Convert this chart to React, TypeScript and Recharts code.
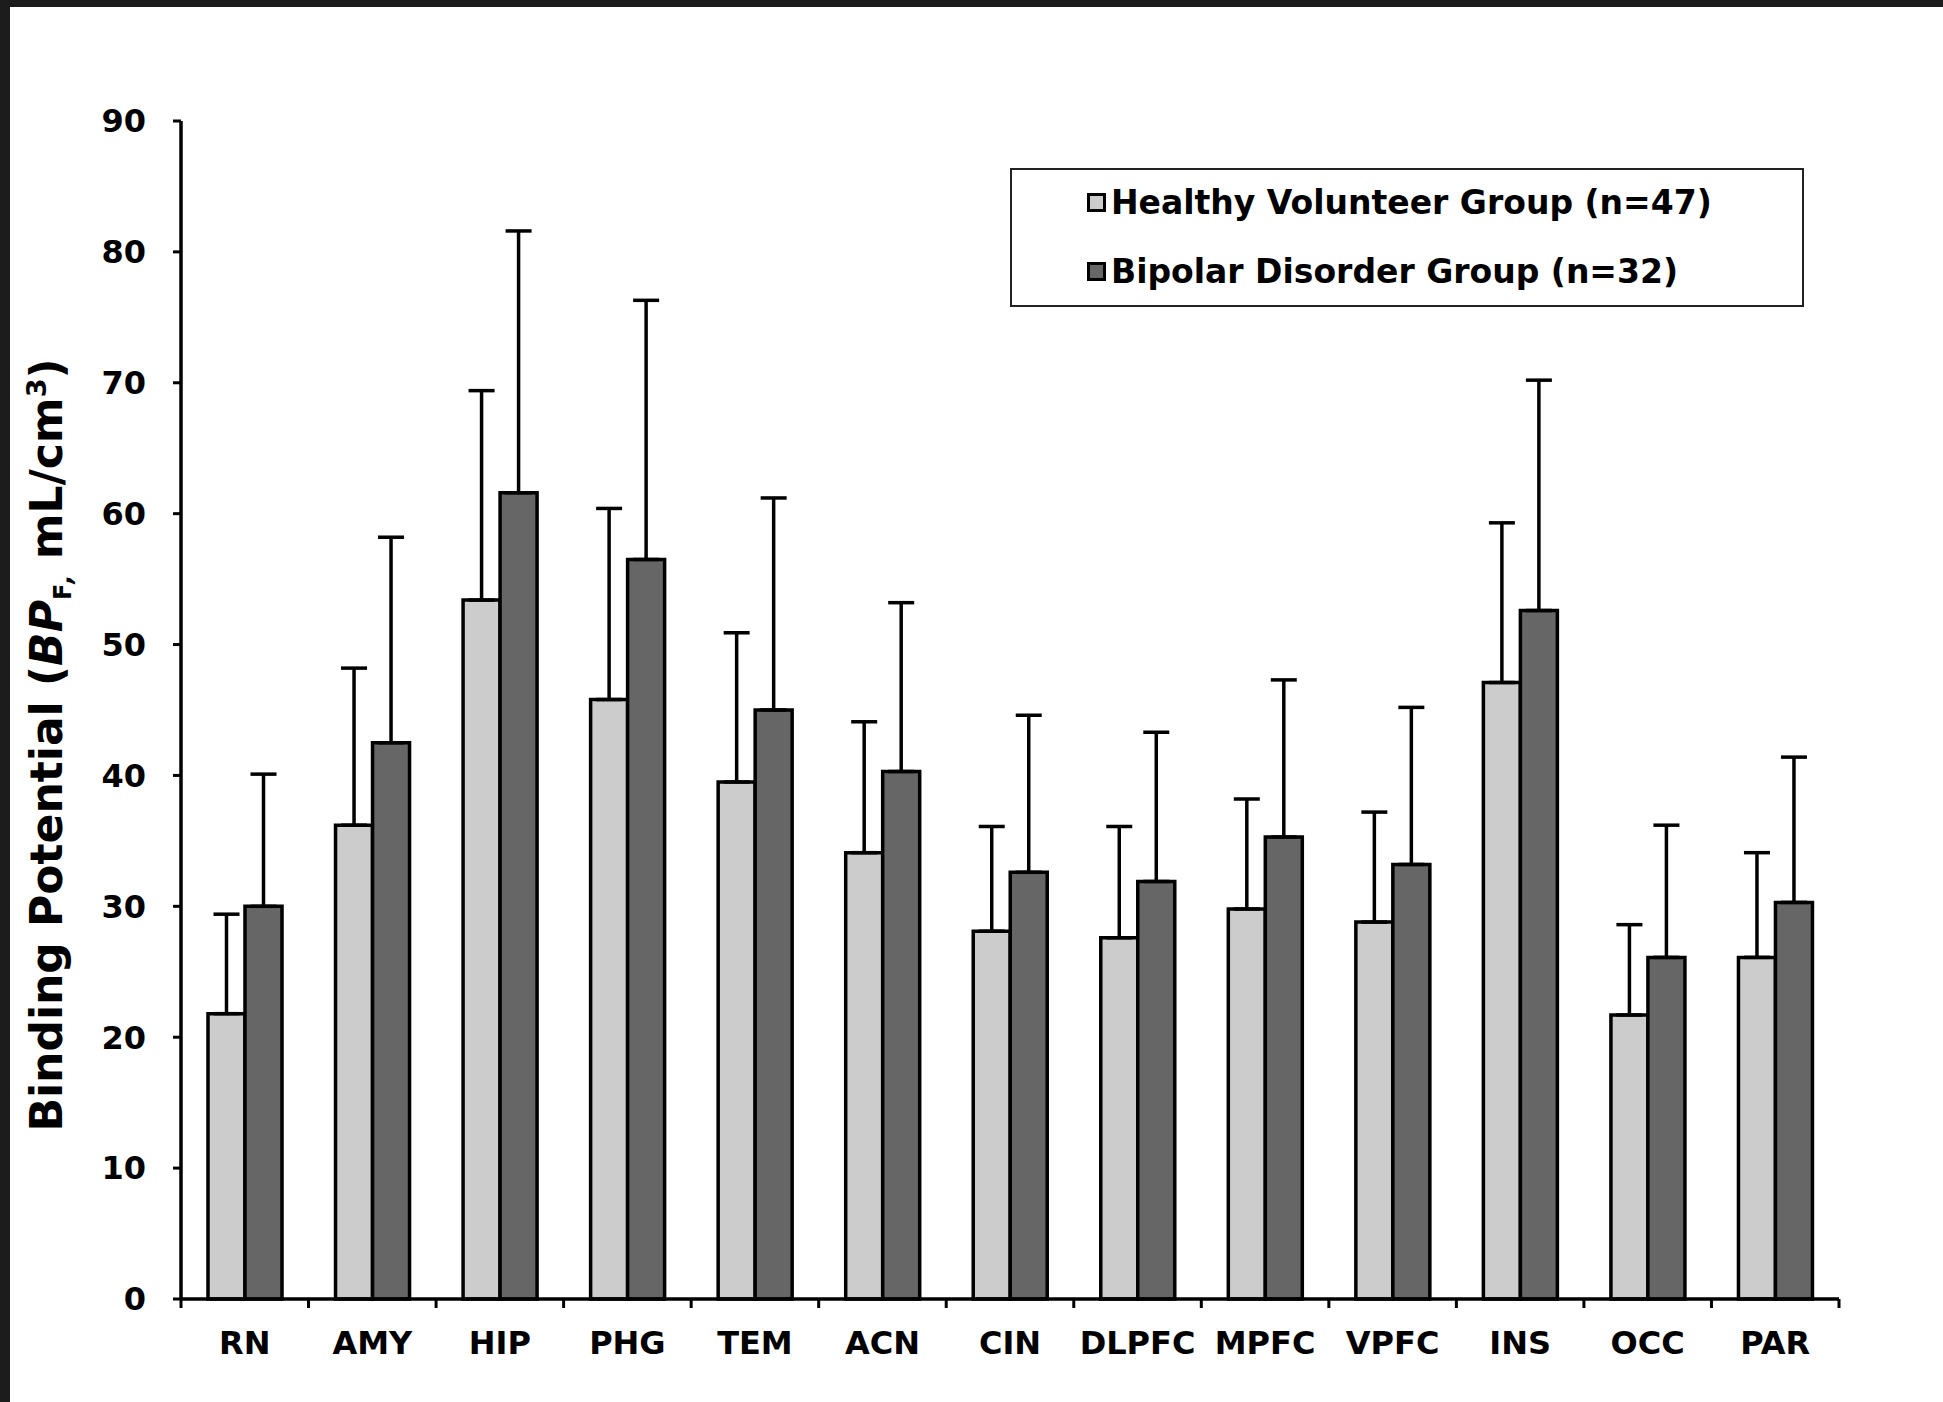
import React from "react";
import { Bar, BarChart, ErrorBar, Label, Legend, XAxis, YAxis } from "recharts";

const regions = ["RN", "AMY", "HIP", "PHG", "TEM", "ACN", "CIN", "DLPFC", "MPFC", "VPFC", "INS", "OCC", "PAR"];
const healthyMean = [21.8, 36.2, 53.4, 45.8, 39.5, 34.1, 28.1, 27.6, 29.8, 28.8, 47.1, 21.7, 26.1];
const healthySd = [7.6, 12.0, 16.0, 14.6, 11.4, 10.0, 8.0, 8.5, 8.4, 8.4, 12.2, 6.9, 8.0];
const bipolarMean = [30.0, 42.5, 61.6, 56.5, 45.0, 40.3, 32.6, 31.9, 35.3, 33.2, 52.6, 26.1, 30.3];
const bipolarSd = [10.1, 15.7, 20.0, 19.8, 16.2, 12.9, 12.0, 11.4, 12.0, 12.0, 17.6, 10.1, 11.1];
const yTicks = [0, 10, 20, 30, 40, 50, 60, 70, 80, 90];
const seriesNames = ["Healthy Volunteer Group (n=47)", "Bipolar Disorder Group (n=32)"];
const seriesColors = ["#cccccc", "#666666"];

const data = regions.map((region, i) => ({
  region,
  healthy: healthyMean[i],
  healthyErr: [0, healthySd[i]],
  bipolar: bipolarMean[i],
  bipolarErr: [0, bipolarSd[i]],
}));

const FONT = "'DejaVu Sans', Verdana, sans-serif";
const LINE_W = 3.5;

// category labels, with tick marks at the category edges
function RegionTick(props: any) {
  const { x, y, payload, index, width } = props;
  const band = width / regions.length;
  const left = x - band / 2;
  return (
    <g>
      <line x1={left} x2={left} y1={y} y2={y + 9} stroke="#000" strokeWidth={3} />
      {index === regions.length - 1 && (
        <line x1={left + band} x2={left + band} y1={y} y2={y + 9} stroke="#000" strokeWidth={3} />
      )}
      <text x={x} y={y + 55} textAnchor="middle" fontSize={32} fontWeight="bold" fontFamily={FONT} fill="#000">
        {payload.value}
      </text>
    </g>
  );
}

function YTitle(props: any) {
  const { viewBox } = props;
  const cx = viewBox.x + 15;
  const cy = viewBox.y + viewBox.height / 2 + 35;
  return (
    <text
      x={cx}
      y={cy}
      dy="0.36em"
      transform={`rotate(-90 ${cx} ${cy})`}
      textAnchor="middle"
      fontSize={44}
      fontWeight="bold"
      fontFamily={FONT}
      fill="#000"
    >
      Binding Potential (<tspan fontStyle="italic">BP</tspan>
      <tspan fontSize={24} dy={9}>F</tspan>
      <tspan fontSize={24} fontStyle="italic">,</tspan>
      <tspan dy={-9}> mL/cm</tspan>
      <tspan fontSize={27} dy={-16}>3</tspan>
      <tspan dy={16}>)</tspan>
    </text>
  );
}

function LegendBox() {
  return (
    <div
      style={{
        width: 794,
        height: 139,
        boxSizing: "border-box",
        border: "2px solid #222",
        background: "#fff",
        position: "relative",
        fontFamily: FONT,
        fontWeight: "bold",
        fontSize: 33,
        color: "#000",
      }}
    >
      {seriesNames.map((name, i) => (
        <div
          key={name}
          style={{
            position: "absolute",
            left: 75,
            top: 32 + i * 69 - 22,
            height: 44,
            display: "flex",
            alignItems: "center",
            whiteSpace: "nowrap",
          }}
        >
          <span
            style={{
              display: "inline-block",
              width: 13,
              height: 13,
              border: "3px solid #000",
              background: seriesColors[i],
              marginRight: 5,
            }}
          />
          <span>{name}</span>
        </div>
      ))}
    </div>
  );
}

export default function App() {
  return (
    <div style={{ position: "absolute", left: 0, top: 0, width: 1943, height: 1402, background: "#1c1c1c", overflow: "hidden" }}>
      <div style={{ position: "absolute", left: 10, top: 7, width: 1933, height: 1395, background: "#fff" }} />
      <div style={{ position: "absolute", left: 0, top: 0 }}>
        <BarChart
          width={1943}
          height={1402}
          data={data}
          margin={{ top: 121, right: 104, bottom: 43, left: 31 }}
          barCategoryGap={27}
          barGap={0}
        >
          <XAxis
            dataKey="region"
            height={60}
            interval={0}
            tickSize={0}
            tickMargin={0}
            tickLine={false}
            axisLine={{ stroke: "#000", strokeWidth: LINE_W }}
            tick={<RegionTick />}
          />
          <YAxis
            domain={[0, 90]}
            ticks={yTicks}
            interval={0}
            width={150}
            tickSize={8}
            tickMargin={27}
            axisLine={{ stroke: "#000", strokeWidth: LINE_W }}
            tickLine={{ stroke: "#000", strokeWidth: 3 }}
            tick={{ fill: "#000", fontSize: 32, fontWeight: "bold", fontFamily: FONT }}
            label={<Label content={<YTitle />} />}
          />
          <Legend
            layout="vertical"
            align="center"
            verticalAlign="middle"
            content={<LegendBox />}
            wrapperStyle={{ left: 1010, top: 168, width: 794, height: 139 }}
          />
          <Bar dataKey="healthy" name={seriesNames[0]} fill={seriesColors[0]} stroke="#000" strokeWidth={LINE_W} isAnimationActive={false}>
            <ErrorBar dataKey="healthyErr" direction="y" width={13} stroke="#000" strokeWidth={LINE_W} isAnimationActive={false} />
          </Bar>
          <Bar dataKey="bipolar" name={seriesNames[1]} fill={seriesColors[1]} stroke="#000" strokeWidth={LINE_W} isAnimationActive={false}>
            <ErrorBar dataKey="bipolarErr" direction="y" width={13} stroke="#000" strokeWidth={LINE_W} isAnimationActive={false} />
          </Bar>
        </BarChart>
      </div>
    </div>
  );
}
